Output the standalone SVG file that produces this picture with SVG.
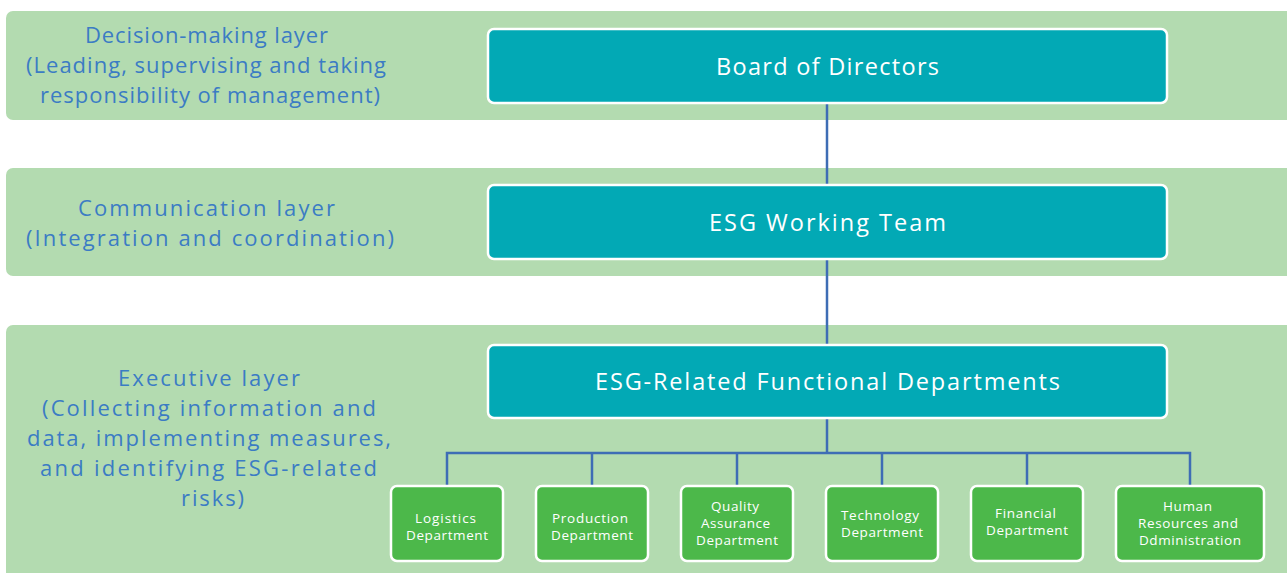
<svg xmlns="http://www.w3.org/2000/svg" width="1287" height="573" viewBox="0 0 1287 573">
  <style>
    .band { fill: #b3dbb0; }
    text { font-family: "Open Sans", "Noto Sans", "Liberation Sans", sans-serif; font-weight: 400; text-anchor: middle; }
    .layer { font-size: 22px; fill: #3b7cc4; }
    .main rect { fill: #02a9b5; stroke: #ffffff; stroke-width: 2.5; }
    .main text { font-size: 23.5px; fill: #ffffff; }
    .dept rect { fill: #4cb84a; stroke: #ffffff; stroke-width: 2.5; }
    .dept text { font-size: 13.5px; fill: #ffffff; }
    .conn { fill: none; stroke: #3e6db5; stroke-width: 2.5; }
  </style>

  <rect width="1287" height="573" fill="#ffffff"/>

  <!-- layer bands -->
  <g id="layer-decision">
    <rect class="band" x="6" y="11" width="1290" height="109" rx="7"/>
    <text class="layer" x="206.5" y="43" textLength="243" lengthAdjust="spacing">Decision-making layer</text>
    <text class="layer" x="206" y="73" textLength="360" lengthAdjust="spacing">(Leading, supervising and taking</text>
    <text class="layer" x="210" y="103" textLength="340" lengthAdjust="spacing">responsibility of management)</text>
  </g>
  <g id="layer-communication">
    <rect class="band" x="6" y="168" width="1290" height="108" rx="7"/>
    <text class="layer" x="206.5" y="216" textLength="257" lengthAdjust="spacing">Communication layer</text>
    <text class="layer" x="210" y="246" textLength="368" lengthAdjust="spacing">(Integration and coordination)</text>
  </g>
  <g id="layer-executive">
    <rect class="band" x="6" y="325" width="1290" height="260" rx="7"/>
    <text class="layer" x="209" y="386" textLength="182" lengthAdjust="spacing">Executive layer</text>
    <text class="layer" x="209" y="416" textLength="334" lengthAdjust="spacing">(Collecting information and</text>
    <text class="layer" x="209" y="446" textLength="364" lengthAdjust="spacing">data, implementing measures,</text>
    <text class="layer" x="208.5" y="476" textLength="337" lengthAdjust="spacing">and identifying ESG-related</text>
    <text class="layer" x="212.5" y="506" textLength="63" lengthAdjust="spacing">risks)</text>
  </g>

  <!-- connectors -->
  <g id="connectors" class="conn">
    <line x1="827" y1="103" x2="827" y2="185"/>
    <line x1="827" y1="259" x2="827" y2="345"/>
    <line x1="827" y1="418" x2="827" y2="453"/>
    <path d="M447 486 V453 H1190 V486"/>
    <line x1="592" y1="453" x2="592" y2="486"/>
    <line x1="737" y1="453" x2="737" y2="486"/>
    <line x1="882" y1="453" x2="882" y2="486"/>
    <line x1="1027" y1="453" x2="1027" y2="486"/>
  </g>

  <!-- main nodes -->
  <g id="board" class="main">
    <rect x="488" y="29" width="679" height="74" rx="6"/>
    <text x="827.5" y="75" textLength="223" lengthAdjust="spacing">Board of Directors</text>
  </g>
  <g id="esg-working-team" class="main">
    <rect x="488" y="185" width="679" height="74" rx="6"/>
    <text x="827.5" y="231" textLength="237" lengthAdjust="spacing">ESG Working Team</text>
  </g>
  <g id="esg-functional" class="main">
    <rect x="488" y="345" width="679" height="73" rx="6"/>
    <text x="827.5" y="390" textLength="465" lengthAdjust="spacing">ESG-Related Functional Departments</text>
  </g>

  <!-- departments -->
  <g id="logistics" class="dept">
    <rect x="391" y="486" width="112" height="75" rx="6"/>
    <text x="445.5" y="523" textLength="61" lengthAdjust="spacing">Logistics</text>
    <text x="447" y="540" textLength="82" lengthAdjust="spacing">Department</text>
  </g>
  <g id="production" class="dept">
    <rect x="536" y="486" width="112" height="75" rx="6"/>
    <text x="590" y="523" textLength="76" lengthAdjust="spacing">Production</text>
    <text x="592" y="540" textLength="82" lengthAdjust="spacing">Department</text>
  </g>
  <g id="quality" class="dept">
    <rect x="681" y="486" width="112" height="75" rx="6"/>
    <text x="735" y="511" textLength="48" lengthAdjust="spacing">Quality</text>
    <text x="735.5" y="528" textLength="69" lengthAdjust="spacing">Assurance</text>
    <text x="737" y="545" textLength="82" lengthAdjust="spacing">Department</text>
  </g>
  <g id="technology" class="dept">
    <rect x="826" y="486" width="112" height="75" rx="6"/>
    <text x="880" y="520" textLength="78" lengthAdjust="spacing">Technology</text>
    <text x="882" y="537" textLength="82" lengthAdjust="spacing">Department</text>
  </g>
  <g id="financial" class="dept">
    <rect x="971" y="486" width="112" height="75" rx="6"/>
    <text x="1025.5" y="518" textLength="61" lengthAdjust="spacing">Financial</text>
    <text x="1027" y="535" textLength="82" lengthAdjust="spacing">Department</text>
  </g>
  <g id="human-resources" class="dept">
    <rect x="1116" y="486" width="148" height="75" rx="6"/>
    <text x="1187.5" y="511" textLength="49" lengthAdjust="spacing">Human</text>
    <text x="1188" y="528" textLength="100" lengthAdjust="spacing">Resources and</text>
    <text x="1190" y="545" textLength="102" lengthAdjust="spacing">Ddministration</text>
  </g>
</svg>
